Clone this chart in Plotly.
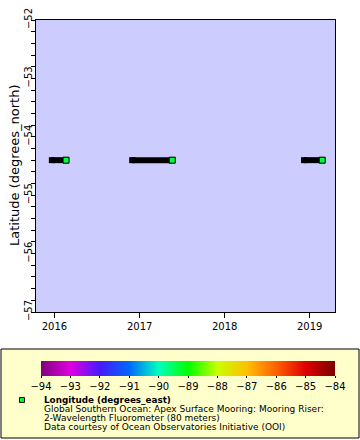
import plotly.graph_objects as go

# ---- data ----
seg_start = ["2015-12-21", "2016-11-30", "2018-12-08"]
seg_end = ["2016-02-20", "2017-05-21", "2019-02-24"]
latitude = -54.40
longitude = -89.28
x_range = ["2015-10-14", "2019-04-20"]
y_range = [-57, -52]
cbar_ticks = [-94, -93, -92, -91, -90, -89, -88, -87, -86, -85, -84]
y_title = "Latitude (degrees_north)"
legend_title = "Longitude (degrees_east)"
legend_lines = [
    "Global Southern Ocean: Apex Surface Mooring: Mooring Riser:",
    "2-Wavelength Fluorometer (80 meters)",
    "Data courtesy of Ocean Observatories Initiative (OOI)",
]

colorscale = [
    [0.0, "#7f007f"], [0.1, "#e000e0"], [0.2, "#4818ff"], [0.3, "#0068ff"],
    [0.4, "#00ffc0"], [0.5, "#00ff00"], [0.6, "#c8ff00"], [0.7, "#ffc000"],
    [0.8, "#ff6000"], [0.9, "#e00000"], [1.0, "#7a0000"],
]

W, H = 360, 440
L, R, T, B = 36, 25, 20, 128
PW, PH = W - L - R, H - T - B


def px(xp):
    return (xp - L) / PW


def py(yp):
    return (H - B - yp) / PH


FONT = "DejaVu Sans"
fig = go.Figure()

for s, e in zip(seg_start, seg_end):
    fig.add_trace(go.Scatter(
        x=[s, e], y=[latitude, latitude], mode="lines+markers",
        line=dict(color="black", width=6),
        marker=dict(symbol="square", size=6, color="black"),
        showlegend=False, hoverinfo="skip"))

fig.add_trace(go.Scatter(
    x=seg_end, y=[latitude] * len(seg_end), mode="markers",
    marker=dict(symbol="square", size=6, color=[longitude] * len(seg_end),
                colorscale=colorscale, cmin=-94, cmax=-84,
                line=dict(color="black", width=1),
                showscale=True,
                colorbar=dict(orientation="h", x=px(41), xanchor="left",
                              y=py(361), yanchor="top", len=294, lenmode="pixels",
                              thickness=15, thicknessmode="pixels",
                              xpad=0, ypad=0, outlinewidth=0,
                              tickvals=cbar_ticks, ticks="outside", ticklen=2,
                              tickcolor="black",
                              tickfont=dict(family=FONT, size=10, color="black"))),
    showlegend=False))

shapes = [
    dict(type="rect", xref="paper", yref="paper", x0=px(1), x1=px(359),
         y0=py(349), y1=py(438), fillcolor="#ffffcc",
         line=dict(color="black", width=1), layer="below"),
    dict(type="rect", xref="paper", yref="paper", x0=px(19.5), x1=px(24.5),
         y0=py(397.5), y1=py(402.5), fillcolor="#00ff00",
         line=dict(color="black", width=1)),
]

annotations = [
    dict(text=y_title, xref="paper", yref="paper", x=px(14), y=0.5,
         xanchor="center", yanchor="middle", textangle=-90, showarrow=False,
         font=dict(family=FONT, size=13, color="black")),
    dict(text="<b>" + legend_title + "</b>", xref="paper", yref="paper",
         x=px(42), y=py(400), xanchor="left", yanchor="middle",
         showarrow=False, font=dict(family=FONT, size=8.8, color="black")),
]
for i, t in enumerate(legend_lines):
    annotations.append(dict(text=t, xref="paper", yref="paper",
                            x=px(42), y=py(409 + 9 * i), xanchor="left", yanchor="middle",
                            showarrow=False, font=dict(family=FONT, size=9, color="black")))

fig.update_layout(
    width=W, height=H,
    margin=dict(l=L, r=R, t=T, b=B, pad=0, autoexpand=False),
    paper_bgcolor="white", plot_bgcolor="#ccccff",
    font=dict(family=FONT, size=10, color="black"),
    shapes=shapes, annotations=annotations,
    xaxis=dict(range=x_range, type="date", tick0="2016-01-01", dtick="M12",
               tickformat="%Y", showgrid=False, zeroline=False, automargin=False,
               showline=True, mirror=True, linecolor="black", linewidth=1,
               ticks="outside", ticklen=5, tickcolor="black",
               tickfont=dict(family=FONT, size=10)),
    yaxis=dict(range=y_range, dtick=1, showgrid=False, zeroline=False, automargin=False,
               showline=True, mirror=True, linecolor="black", linewidth=1,
               ticks="outside", ticklen=4, tickcolor="black", tickangle=-90,
               ticklabelstandoff=-5,
               tickfont=dict(family=FONT, size=10),
               minor=dict(dtick=0.2, ticks="outside", ticklen=4, tickcolor="black",
                          showgrid=False)),
)

fig.write_html("out.html", config={"displayModeBar": False},
               post_script="document.body.style.margin='0';document.body.style.overflow='hidden';")
